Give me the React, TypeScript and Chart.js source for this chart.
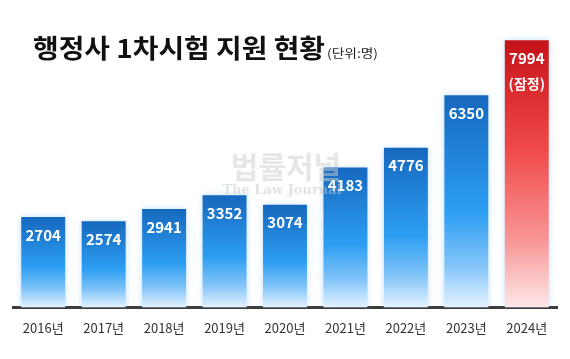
import React, { useEffect, useRef } from "react";
import { Chart, registerables } from "chart.js";

Chart.register(...registerables);

const years = ["2016년", "2017년", "2018년", "2019년", "2020년", "2021년", "2022년", "2023년", "2024년"];
const applicants = [2704, 2574, 2941, 3352, 3074, 4183, 4776, 6350, 7994];
const provisionalIndex = 8;
const titleText = "행정사 1차시험 지원 현황";
const unitText = "(단위:명)";
const provisionalText = "(잠정)";

const FONT = '"Noto Sans CJK KR", "Noto Sans", sans-serif';

function barGradient(ctx: CanvasRenderingContext2D, top: number, bottom: number, red: boolean) {
  const g = ctx.createLinearGradient(0, top, 0, bottom);
  if (red) {
    g.addColorStop(0, "rgb(196,18,24)");
    g.addColorStop(0.4, "rgb(240,72,72)");
    g.addColorStop(0.75, "rgb(248,150,150)");
    g.addColorStop(1, "rgb(253,232,232)");
  } else {
    g.addColorStop(0, "rgb(22,104,190)");
    g.addColorStop(0.55, "rgb(44,158,242)");
    g.addColorStop(0.8, "rgb(130,196,248)");
    g.addColorStop(1, "rgb(228,242,255)");
  }
  return g;
}

export default function App() {
  const ref = useRef<HTMLCanvasElement>(null);
  useEffect(() => {
    document.body.style.margin = "0";
    const canvas = ref.current!;
    const glowPlugin = {
      id: "glow",
      beforeDatasetsDraw(chart: any) {
        const c = chart.ctx;
        c.save();
        c.shadowColor = "rgba(140,200,255,0.55)";
        c.shadowBlur = 6;
      },
      afterDatasetsDraw(chart: any) {
        chart.ctx.restore();
      },
    };
    const labelsPlugin = {
      id: "labels",
      afterDraw(chart: any) {
        const c = chart.ctx as CanvasRenderingContext2D;
        const meta = chart.getDatasetMeta(0);
        c.save();
        c.fillStyle = "#ffffff";
        c.textAlign = "center";
        c.textBaseline = "middle";
        meta.data.forEach((bar: any, i: number) => {
          c.font = `bold 15px ${FONT}`;
          c.fillText(String(applicants[i]), bar.x, bar.y + 18);
          if (i === provisionalIndex) {
            c.font = `bold 14px ${FONT}`;
            c.fillText(provisionalText, bar.x, bar.y + 43);
          }
        });
        // watermark
        c.fillStyle = "rgba(205,205,205,0.5)";
        c.font = `bold 30px ${FONT}`;
        c.fillText("법률저널", 286, 167);
        c.font = `bold 13px "DejaVu Serif", serif`;
        c.fillStyle = "rgba(200,200,200,0.5)";
        c.fillText("The Law Journal", 282, 191);
        // title
        c.textAlign = "left";
        c.textBaseline = "alphabetic";
        c.fillStyle = "#111111";
        c.font = `bold 26px ${FONT}`;
        const w = c.measureText(titleText).width;
        c.save();
        c.translate(33, 58);
        c.scale(292 / w, 1);
        c.fillText(titleText, 0, 0);
        c.restore();
        c.font = `12px ${FONT}`;
        c.fillStyle = "#222222";
        const uw = c.measureText(unitText).width;
        c.save();
        c.translate(327, 58);
        c.scale(51 / uw, 1);
        c.fillText(unitText, 0, 0);
        c.restore();
        c.restore();
      },
    };
    const chart = new Chart(canvas, {
      type: "bar",
      data: {
        labels: years,
        datasets: [
          {
            data: applicants,
            backgroundColor: (ctx: any) => {
              const ch = ctx.chart;
              const red = ctx.dataIndex === provisionalIndex;
              if (!ch.chartArea || !ch.scales?.y) return red ? "#e83a3a" : "#2a8ee6";
              const y = ch.scales.y;
              const v = applicants[ctx.dataIndex] ?? 0;
              return barGradient(ch.ctx, y.getPixelForValue(v), y.getPixelForValue(0), red);
            },
            borderWidth: 0,
            barPercentage: 0.727,
            categoryPercentage: 1,
          },
        ],
      },
      options: {
        animation: false,
        responsive: false,
        maintainAspectRatio: false,
        layout: { padding: { top: 30, left: 13, right: 13, bottom: 10 } },
        plugins: { legend: { display: false }, tooltip: { enabled: false }, title: { display: false } },
        scales: {
          y: { display: false, min: 0, max: 8300 },
          x: {
            grid: { display: false, drawTicks: false },
            border: { display: true, color: "#3c3c3c", width: 3 },
            ticks: { color: "#333333", font: { family: FONT, size: 13 }, padding: 13 },
          },
        },
      },
      plugins: [glowPlugin, labelsPlugin],
    });
    return () => chart.destroy();
  }, []);
  return <canvas ref={ref} width={570} height={359} style={{ display: "block" }} />;
}
